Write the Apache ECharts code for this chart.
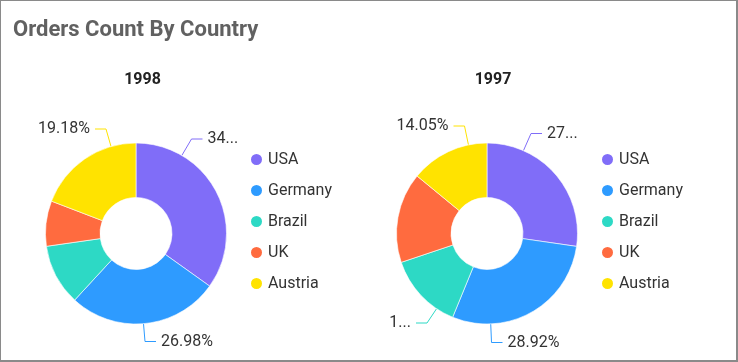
<!DOCTYPE html>
<html>
<head>
<meta charset="utf-8">
<script src="https://cdn.jsdelivr.net/npm/echarts@6/dist/echarts.min.js"></script>
<style>
html,body{margin:0;padding:0;background:#fff;}
#chart{position:absolute;left:0;top:0;width:738px;height:362px;}
#frame{position:absolute;left:0;top:0;width:738px;height:362px;box-sizing:border-box;border:1px solid #8a8a8a;border-right-width:2px;border-bottom-width:2px;pointer-events:none;}
</style>
</head>
<body>
<div id="chart"></div>
<div id="frame"></div>
<script>
const chartTitle = 'Orders Count By Country';
const years = ['1998', '1997'];
const countries = ['USA', 'Germany', 'Brazil', 'UK', 'Austria'];
const orders1998 = [34.87, 26.98, 10.89, 8.08, 19.18];
const orders1997 = [66, 70, 33, 39, 34];
const colors = ['#806DF8', '#2E9BFF', '#2DD9C5', '#FF6B3F', '#FFE300'];

// pie geometry and label placement (layout only)
const pieCenters = [[136, 233.5], [487, 233.5]];
const innerR = 36, outerR = 90.5;
const labelGap = 5, elbowLen = 11;
const labelSpots = [
  { 0: { x: 207.5, y: 139, align: 'left', width: 32 },
    1: { x: 161, y: 341.5, align: 'left' },
    4: { x: 90, y: 129, align: 'right' } },
  { 0: { x: 547, y: 133.5, align: 'left', width: 32 },
    1: { x: 507.5, y: 342.5, align: 'left' },
    2: { x: 411, y: 323, align: 'right', width: 25 },
    4: { x: 448.5, y: 126, align: 'right' } }
];

const font = 'Roboto';
function mkData(vals, spots) {
  return countries.map((c, i) => {
    const item = { name: c, value: vals[i] };
    if (!spots[i]) {
      item.label = { show: false };
      item.labelLine = { show: false };
    }
    return item;
  });
}
function guidePoints(s, c) {
  const dir = s.align === 'left' ? -1 : 1;
  const end = [s.x + dir * labelGap, s.y];
  const elbow = [end[0] + dir * elbowLen, s.y];
  const dx = elbow[0] - c[0], dy = elbow[1] - c[1];
  const d = Math.sqrt(dx * dx + dy * dy);
  const start = [c[0] + dx / d * outerR, c[1] + dy / d * outerR];
  return [start, elbow, end];
}
function mkPie(vals, sIdx) {
  const spots = labelSpots[sIdx];
  const c = pieCenters[sIdx];
  return {
    type: 'pie',
    left: 0, top: 0, width: 738, height: 362,
    center: c,
    radius: [innerR, outerR],
    startAngle: 90,
    clockwise: true,
    percentPrecision: 2,
    itemStyle: { borderColor: '#fff', borderWidth: 0.6 },
    label: {
      formatter: '{d}%',
      color: '#333',
      fontSize: 16,
      fontFamily: font,
      overflow: 'truncate'
    },
    labelLine: { length: 15, length2: 15, lineStyle: { width: 1 } },
    labelLayout: function (p) {
      const s = spots[p.dataIndex];
      if (!s) return {};
      return {
        x: s.x, y: s.y, align: s.align, verticalAlign: 'middle',
        width: s.width || 80,
        labelLinePoints: guidePoints(s, c)
      };
    },
    emphasis: { scale: false },
    data: mkData(vals, spots)
  };
}
const legendBase = {
  orient: 'vertical', top: 151.5, padding: 0, icon: 'circle',
  itemWidth: 13, itemHeight: 13, itemGap: 15,
  data: countries,
  textStyle: { fontSize: 16, color: '#333', fontFamily: font }
};
const chart = echarts.init(document.getElementById('chart'), null, { renderer: 'canvas' });
chart.setOption({
  animation: false,
  color: colors,
  title: [
    { text: chartTitle, left: 13, top: 19, padding: 0,
      textStyle: { fontSize: 22, fontWeight: 'bold', color: '#616161', fontFamily: font } },
    { text: years[0], left: 142.5, top: 72, padding: 0, textAlign: 'center',
      textStyle: { fontSize: 16, fontWeight: 'bold', color: '#222', fontFamily: font } },
    { text: years[1], left: 493, top: 72, padding: 0, textAlign: 'center',
      textStyle: { fontSize: 16, fontWeight: 'bold', color: '#222', fontFamily: font } }
  ],
  legend: [
    Object.assign({}, legendBase, { left: 249 }),
    Object.assign({}, legendBase, { left: 600 })
  ],
  series: [
    mkPie(orders1998, 0),
    mkPie(orders1997, 1)
  ]
});
</script>
</body>
</html>
